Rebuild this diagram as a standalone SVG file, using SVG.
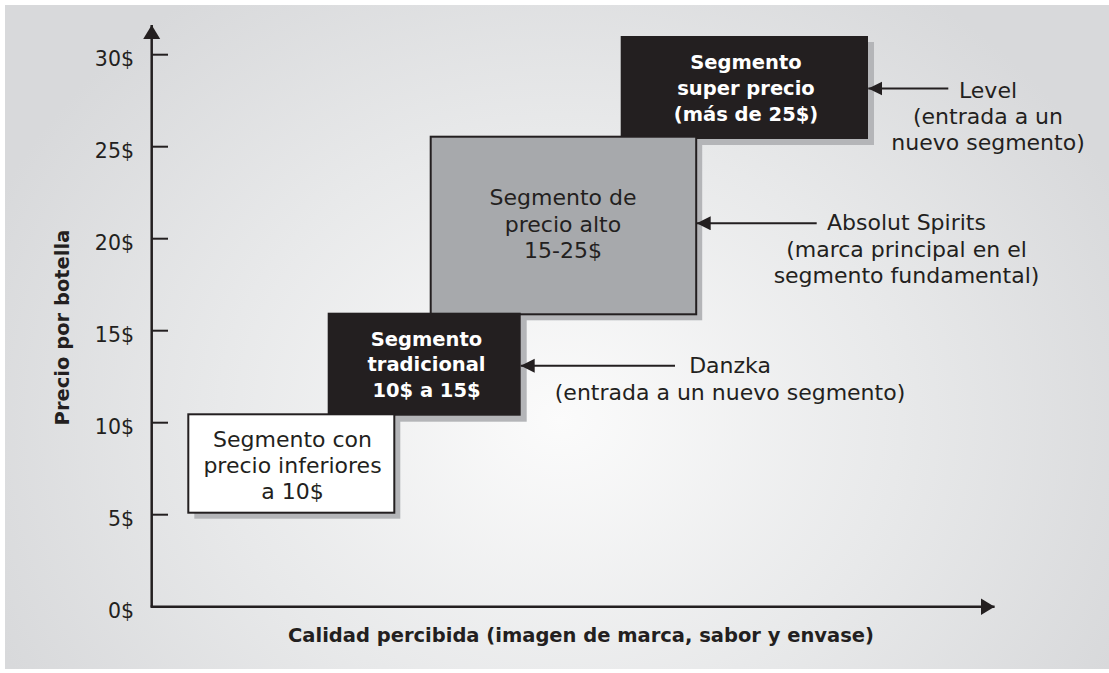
<svg xmlns="http://www.w3.org/2000/svg" width="1109" height="673" viewBox="0 0 1109 673">
  <defs>
    <radialGradient id="bg" gradientUnits="userSpaceOnUse" cx="560" cy="420" r="620" gradientTransform="translate(560 420) scale(1 0.85) translate(-560 -420)">
      <stop offset="0" stop-color="#fbfbfb"/>
      <stop offset="0.55" stop-color="#e8e9ea"/>
      <stop offset="1" stop-color="#d8d9db"/>
    </radialGradient>
    <marker id="arr" markerUnits="userSpaceOnUse" markerWidth="15" markerHeight="15" refX="14" refY="7" orient="auto" viewBox="0 0 15 15">
      <path d="M0,0 L14,7 L0,14 z" fill="#231f20"/>
    </marker>
    <marker id="axarr" markerUnits="userSpaceOnUse" markerWidth="15" markerHeight="18" refX="14" refY="8.5" orient="auto" viewBox="0 0 15 18">
      <path d="M0,0 L14,8.5 L0,17 z" fill="#231f20"/>
    </marker>
  </defs>
  <style>
    .reg { font-family: "DejaVu Sans", "Liberation Sans", sans-serif; font-size: 22px; fill: #231f20; text-anchor: middle; }
    .tick { font-family: "DejaVu Sans", "Liberation Sans", sans-serif; font-size: 20.5px; fill: #231f20; text-anchor: end; }
    .bold { font-family: "DejaVu Sans", "Liberation Sans", sans-serif; font-size: 19.5px; font-weight: bold; fill: #231f20; text-anchor: middle; }
    .boldw { font-family: "DejaVu Sans", "Liberation Sans", sans-serif; font-size: 19.5px; font-weight: bold; fill: #ffffff; text-anchor: middle; }
    .shadow { fill: #b4b5b8; }
    .axis { stroke: #231f20; stroke-width: 2.5; fill: none; }
    .tk { stroke: #231f20; stroke-width: 2; }
    .conn { stroke: #231f20; stroke-width: 2; fill: none; }
  </style>

  <rect x="5" y="5" width="1104" height="664" fill="url(#bg)"/>

  <g id="axes">
    <line class="axis" x1="151.7" y1="606.7" x2="151.7" y2="25" marker-end="url(#axarr)"/>
    <line class="axis" x1="150.5" y1="606.7" x2="994.6" y2="606.7" marker-end="url(#axarr)"/>
    <line class="tk" x1="152" y1="54.7" x2="168" y2="54.7"/>
    <line class="tk" x1="152" y1="146.7" x2="168" y2="146.7"/>
    <line class="tk" x1="152" y1="238.7" x2="168" y2="238.7"/>
    <line class="tk" x1="152" y1="330.7" x2="168" y2="330.7"/>
    <line class="tk" x1="152" y1="422.7" x2="168" y2="422.7"/>
    <line class="tk" x1="152" y1="514.7" x2="168" y2="514.7"/>
    <text class="tick" x="134" y="65.5">30$</text>
    <text class="tick" x="134" y="157.5">25$</text>
    <text class="tick" x="134" y="249.5">20$</text>
    <text class="tick" x="134" y="341.5">15$</text>
    <text class="tick" x="134" y="433.5">10$</text>
    <text class="tick" x="134" y="525.5">5$</text>
    <text class="tick" x="134" y="617.5">0$</text>
    <text class="bold" transform="translate(68.5 327.5) rotate(-90)" x="0" y="0">Precio por botella</text>
    <text class="bold" x="581" y="642">Calidad percibida (imagen de marca, sabor y envase)</text>
  </g>

  <g id="seg-super">
    <rect class="shadow" x="626.7" y="42" width="247.3" height="103"/>
    <rect x="620.7" y="36" width="247.3" height="103" fill="#231f20"/>
    <text class="boldw" x="746" y="68.5">Segmento</text>
    <text class="boldw" x="746" y="94.5">super precio</text>
    <text class="boldw" x="746" y="120.5">(más de 25$)</text>
  </g>

  <g id="seg-alto">
    <rect class="shadow" x="436.7" y="142.7" width="265.5" height="177.6"/>
    <rect x="430.7" y="136.7" width="265.5" height="177.6" fill="#a7a9ac" stroke="#231f20" stroke-width="2"/>
    <text class="reg" x="563" y="205">Segmento de</text>
    <text class="reg" x="563" y="231.7">precio alto</text>
    <text class="reg" x="563" y="258.3">15-25$</text>
  </g>

  <g id="seg-tradicional">
    <rect class="shadow" x="333.7" y="318.7" width="193" height="103"/>
    <rect x="327.7" y="312.7" width="193" height="103" fill="#231f20"/>
    <text class="boldw" x="426.5" y="345.7">Segmento</text>
    <text class="boldw" x="426.5" y="371">tradicional</text>
    <text class="boldw" x="426.5" y="397.3">10$ a 15$</text>
  </g>

  <g id="seg-inferior">
    <rect class="shadow" x="194.3" y="420.3" width="206" height="98.4"/>
    <rect x="188.3" y="414.3" width="206" height="98.4" fill="#ffffff" stroke="#231f20" stroke-width="2"/>
    <text class="reg" x="292.5" y="446.7">Segmento con</text>
    <text class="reg" x="292.5" y="472.7">precio inferiores</text>
    <text class="reg" x="292.5" y="498.5">a 10$</text>
  </g>

  <g id="label-level">
    <text class="reg" x="988" y="97.7">Level</text>
    <text class="reg" x="988" y="123.8">(entrada a un</text>
    <text class="reg" x="988" y="150">nuevo segmento)</text>
  </g>

  <g id="label-absolut">
    <text class="reg" x="906.5" y="230">Absolut Spirits</text>
    <text class="reg" x="906.5" y="256.5">(marca principal en el</text>
    <text class="reg" x="906.5" y="283">segmento fundamental)</text>
  </g>

  <g id="label-danzka">
    <text class="reg" x="730" y="373.3">Danzka</text>
    <text class="reg" x="730" y="400">(entrada a un nuevo segmento)</text>
  </g>

  <g id="connectors">
    <line class="conn" x1="948.3" y1="88.5" x2="868.3" y2="88.5" marker-end="url(#arr)"/>
    <line class="conn" x1="816.7" y1="223.3" x2="696.7" y2="223.3" marker-end="url(#arr)"/>
    <line class="conn" x1="675" y1="365.7" x2="520.7" y2="365.7" marker-end="url(#arr)"/>
  </g>
</svg>
